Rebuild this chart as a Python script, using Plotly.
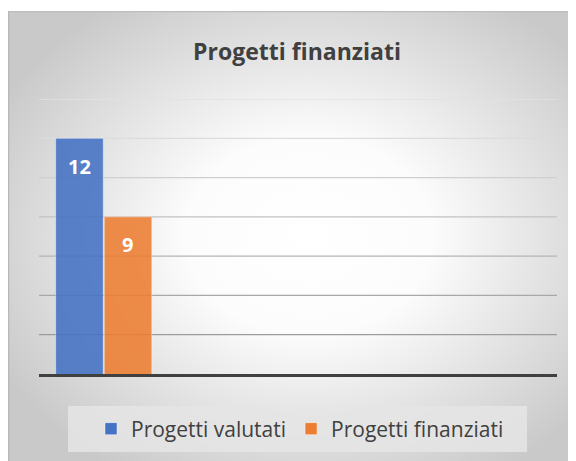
import base64
import plotly.graph_objects as go

#%% data
categories = ['Cat. 1', 'Cat. 2', 'Cat. 3', 'Cat. 4']
progetti_valutati = [12, None, None, None]
progetti_finanziati = [9, None, None, None]
y_min, y_max, y_step = 3, 13.5, 1.5

#%% style
BLUE = '#4472C4'
ORANGE = '#ED7D31'
TEXT = '#404040'
FONT = 'Open Sans'
OFF = 8  # page body margin
W, H = 576 - OFF, 461 - OFF
L, R, T, B = 39 - OFF, 19, 99 - OFF, 87
pw, ph = W - L - R, H - T - B

def px_x(x):
    # reference pixel -> paper x
    return (x - OFF - L) / pw

def px_y(y):
    return (H - B - (y - OFF)) / ph

# radial gradient background (svg as data uri)
svg = '''<svg xmlns="http://www.w3.org/2000/svg" width="568" height="450" viewBox="0 0 568 450">
<defs><radialGradient id="g" cx="53%" cy="50%" r="62%">
<stop offset="0" stop-color="#ffffff"/><stop offset="0.35" stop-color="#fcfcfc"/>
<stop offset="1" stop-color="#c9c9c9"/></radialGradient></defs>
<rect x="0" y="0" width="568" height="450" fill="url(#g)"/>
<line x1="0" y1="0.5" x2="568" y2="0.5" stroke="#bdbdbd" stroke-width="1.5"/>
<line x1="0.5" y1="0" x2="0.5" y2="450" stroke="#b8b8b8" stroke-width="1.5"/>
</svg>'''
bg_src = 'data:image/svg+xml;base64,' + base64.b64encode(svg.encode()).decode()

fig = go.Figure()
fig.add_trace(go.Bar(x=categories, y=progetti_valutati, name='Progetti valutati',
                     marker=dict(color=BLUE, opacity=0.88, line=dict(color='rgba(255,255,255,0.45)', width=1))))
fig.add_trace(go.Bar(x=categories, y=progetti_finanziati, name='Progetti finanziati',
                     marker=dict(color=ORANGE, opacity=0.88, line=dict(color='rgba(255,255,255,0.45)', width=1))))

# data labels inside the bars
for shift, series in [(-24, progetti_valutati), (24, progetti_finanziati)]:
    for c, v in zip(categories, series):
        if v is None:
            continue
        fig.add_annotation(x=c, y=v, text=f'<b>{v}</b>', showarrow=False, yanchor='middle',
                           xshift=shift, yshift=-28,
                           font=dict(family=FONT, size=20, color='white'))

# gridlines, lighter at the top
grid = [y_min + y_step * k for k in range(1, int(round((y_max - y_min) / y_step)) + 1)]
greys = ['#9c9c9c', '#a8a8a8', '#b4b4b4', '#c2c2c2', '#cfcfcf', '#dcdcdc', '#e2e2e2']
for gv, col in zip(grid, greys):
    fig.add_hline(y=gv, line=dict(color=col, width=1.3), layer='below')

# legend box
fig.add_shape(type='rect', xref='paper', yref='paper', x0=px_x(68), x1=px_x(527), y0=px_y(452), y1=px_y(406),
              fillcolor='rgba(229,229,229,0.85)', line=dict(width=0), layer='below')

fig.add_layout_image(source=bg_src, xref='paper', yref='paper', x=px_x(8), y=px_y(11),
                     sizex=568 / pw, sizey=450 / ph, sizing='stretch',
                     xanchor='left', yanchor='top', layer='below')

fig.update_layout(
    width=W, height=H,
    margin=dict(l=L, r=R, t=T, b=B),
    paper_bgcolor='white', plot_bgcolor='rgba(0,0,0,0)',
    barmode='group', bargap=0.25, bargroupgap=0.02,
    title=dict(text='<b>Progetti finanziati</b>', x=(297 - OFF) / W, xanchor='center',
               y=1 - (52 - OFF) / H, yanchor='middle', yref='container',
               font=dict(family=FONT, size=23, color=TEXT)),
    legend=dict(orientation='h', x=px_x(300), xanchor='center', y=px_y(429), yanchor='middle',
                bgcolor='rgba(0,0,0,0)', font=dict(family=FONT, size=21, color=TEXT)),
    font=dict(family=FONT, color=TEXT),
)
fig.update_xaxes(type='category', categoryarray=categories, range=[-0.5, 3.5], showticklabels=False,
                 showgrid=False, showline=True, linecolor=TEXT, linewidth=3, ticks='')
fig.update_yaxes(range=[y_min, y_max], showticklabels=False, showgrid=False, zeroline=False, ticks='')

fig.write_html('out.html')
